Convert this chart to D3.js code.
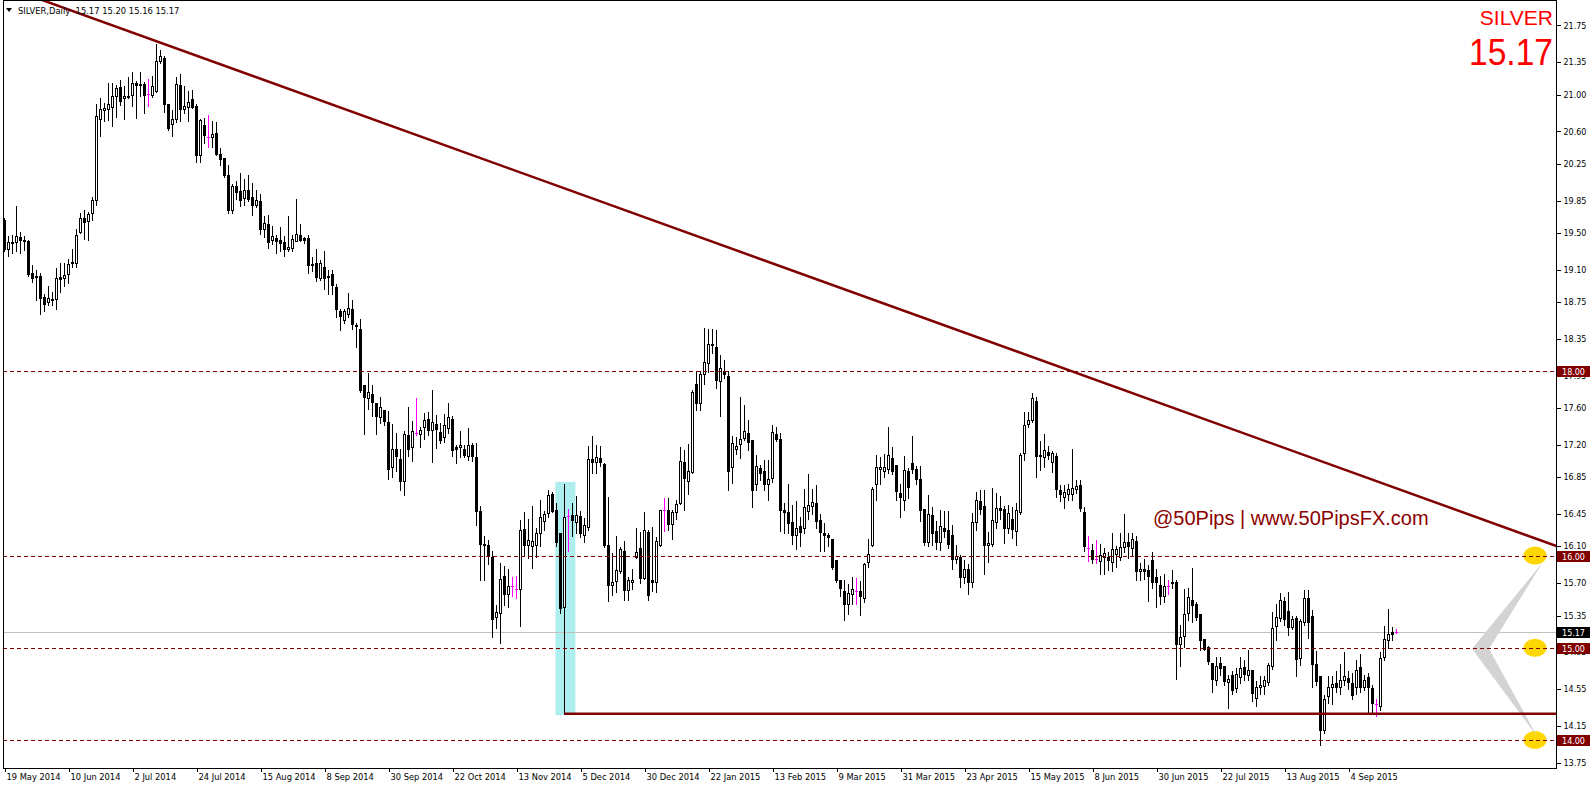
<!DOCTYPE html>
<html><head><meta charset="utf-8">
<script src="https://cdn.jsdelivr.net/npm/d3@7/dist/d3.min.js"></script>
<style>
html,body{margin:0;padding:0;background:#fff;overflow:hidden;}
svg{display:block;}
</style></head><body>
<svg id="chart" width="1596" height="786"></svg>
<script>
// ---------------- DATA ----------------
const dateTicks = ["19 May 2014","10 Jun 2014","2 Jul 2014","24 Jul 2014","15 Aug 2014","8 Sep 2014","30 Sep 2014","22 Oct 2014","13 Nov 2014","5 Dec 2014","30 Dec 2014","22 Jan 2015","13 Feb 2015","9 Mar 2015","31 Mar 2015","23 Apr 2015","15 May 2015","8 Jun 2015","30 Jun 2015","22 Jul 2015","13 Aug 2015","4 Sep 2015"];
const barsPerTick = 16;
const priceTicks = [21.75,21.35,21.00,20.60,20.25,19.85,19.50,19.10,18.75,18.35,17.95,17.60,17.20,16.85,16.45,16.10,15.70,15.35,14.95,14.55,14.15,13.75];
const levels = [18.00,16.00,15.00,14.00];
const bidPrice = 15.17;
const supportLine = {fromBar:140, price:14.285};
const trendLine = [{bar:30.35, price:21.70},{bar:388.1, price:16.104}];
const highlightBox = {fromBar:137.85, toBar:142.85, low:14.27, high:16.80};
const markedLevels = [16.00,15.00,14.00];
const header = {symbol:"SILVER,Daily", ohlc:"15.17 15.20 15.16 15.17"};

const open = [
19.64,19.33,19.39,19.40,19.46,19.42,19.41,19.06,19.02,19.03,
18.80,18.75,18.78,18.78,19.02,19.01,19.05,19.17,19.17,19.51,
19.66,19.63,19.72,19.86,20.73,20.83,20.84,20.87,20.98,21.08,
20.96,20.98,21.00,21.13,21.10,21.11,21.01,21.00,21.04,21.36,
21.40,20.90,20.68,20.73,21.10,20.84,20.87,20.95,20.88,20.35,
20.67,20.54,20.54,20.58,20.36,20.31,20.13,19.75,20.01,19.95,
19.88,19.97,19.89,19.80,19.85,19.54,19.60,19.42,19.45,19.42,
19.40,19.32,19.34,19.41,19.48,19.44,19.45,19.16,19.17,19.01,
19.13,19.03,19.05,18.91,18.65,18.55,18.62,18.68,18.50,18.46,
17.85,17.71,17.75,17.66,17.50,17.58,17.45,16.96,17.16,17.05,
16.81,17.31,17.18,17.33,17.32,17.39,17.48,17.36,17.43,17.34,
17.29,17.38,17.48,17.18,17.18,17.16,17.08,17.20,17.07,16.48,
16.13,16.11,15.99,15.33,15.38,15.78,15.58,15.67,15.64,15.64,
16.29,16.12,16.10,16.12,16.25,16.37,16.46,16.67,16.50,16.24,
15.44,16.43,16.44,16.36,16.43,16.22,16.31,17.05,17.02,17.06,
16.99,16.12,15.68,15.72,15.83,16.05,15.63,15.71,15.98,16.08,
15.76,16.26,15.73,15.71,16.12,16.50,16.50,16.34,16.47,16.57,
17.01,16.81,16.91,17.86,17.66,17.97,18.09,18.28,18.26,17.89,
18.00,17.95,16.96,17.16,17.21,17.28,17.33,17.25,16.78,16.95,
16.92,16.78,16.84,17.32,17.27,16.50,16.47,16.36,16.22,16.32,
16.30,16.48,16.54,16.57,16.39,16.25,16.22,16.18,15.95,15.73,
15.62,15.47,15.58,15.62,15.62,15.54,15.93,16.12,16.78,16.94,
16.92,16.94,17.06,16.98,16.68,16.60,16.92,17.00,16.94,16.83,
16.51,16.15,16.44,16.27,16.15,16.30,16.28,16.22,15.96,15.99,
15.77,15.85,15.71,16.36,16.59,16.54,16.11,16.13,16.36,16.52,
16.51,16.30,16.40,16.27,16.47,17.11,17.43,17.47,17.68,17.09,
17.07,17.12,17.02,17.08,16.71,16.64,16.67,16.67,16.72,16.77,
16.47,16.08,16.06,15.96,15.94,15.99,15.99,15.93,16.02,15.99,
16.09,16.15,16.08,16.16,15.83,15.86,15.84,15.95,15.77,15.68,
15.56,15.67,15.71,15.71,15.04,15.13,15.38,15.52,15.48,15.37,
15.10,15.01,14.84,14.65,14.84,14.80,14.63,14.71,14.56,14.68,
14.79,14.71,14.76,14.46,14.58,14.59,14.63,14.80,15.24,15.32,
15.51,15.40,15.23,15.32,14.89,15.28,15.54,15.35,14.82,14.69,
14.11,14.48,14.58,14.62,14.57,14.65,14.67,14.62,14.58,14.79,
14.58,14.68,14.56,14.39,14.37,14.90,15.09,15.17,15.17];

const high = [
19.66,19.47,19.48,19.79,19.51,19.47,19.42,19.15,19.10,19.07,
18.84,18.92,18.86,19.12,19.17,19.17,19.22,19.32,19.54,19.72,
19.75,19.73,19.89,20.90,20.96,20.91,21.13,21.13,21.10,21.16,
21.09,21.19,21.25,21.15,21.24,21.14,21.17,21.20,21.55,21.48,
21.42,20.90,20.83,21.19,21.22,21.09,21.04,21.05,20.90,20.73,
20.75,20.78,20.71,20.70,20.42,20.31,20.24,20.03,20.06,20.15,
20.08,20.13,20.04,19.97,19.92,19.68,19.69,19.58,19.48,19.56,
19.47,19.68,19.48,19.87,19.60,19.46,19.48,19.24,19.33,19.21,
19.30,19.10,19.10,18.95,18.67,18.68,18.85,18.77,18.52,18.57,
17.85,17.98,17.85,17.66,17.72,17.58,17.57,17.43,17.33,17.16,
17.35,17.61,17.46,17.71,17.40,17.55,17.56,17.80,17.53,17.44,
17.54,17.65,17.51,17.20,17.35,17.20,17.38,17.22,17.22,16.54,
16.21,16.17,16.05,15.46,15.92,15.89,15.86,15.77,15.78,16.39,
16.47,16.40,16.54,16.30,16.60,16.48,16.71,16.69,16.57,16.24,
16.78,16.51,16.57,16.65,16.48,16.41,17.19,17.30,17.20,17.19,
17.00,16.64,16.03,16.21,16.09,16.16,15.77,15.85,16.30,16.26,
16.47,16.28,16.31,16.20,16.50,16.63,16.62,16.50,16.60,17.18,
17.15,17.21,17.80,18.00,18.00,18.47,18.46,18.46,18.45,18.18,
18.12,18.00,17.30,17.29,17.72,17.63,17.47,17.25,17.09,16.98,
17.04,17.04,17.42,17.40,17.33,16.57,16.78,16.55,16.59,16.42,
16.72,16.89,16.72,16.77,16.45,16.35,16.24,16.18,15.95,15.73,
15.74,15.69,15.77,15.76,15.72,15.92,16.18,16.74,17.09,17.07,
17.10,17.39,17.18,16.98,16.78,17.08,16.95,17.30,16.97,16.97,
16.51,16.66,16.53,16.37,16.50,16.48,16.48,16.33,16.12,16.01,
15.95,15.91,16.46,16.69,16.71,16.71,16.26,16.73,16.68,16.65,
16.54,16.55,16.53,16.57,17.11,17.56,17.56,17.76,17.72,17.24,
17.32,17.19,17.13,17.11,16.77,16.77,16.78,17.16,16.82,16.82,
16.53,16.21,16.13,16.17,16.13,16.08,16.04,16.25,16.10,16.24,
16.45,16.24,16.25,16.21,15.92,15.96,15.90,16.04,15.85,15.78,
15.80,15.73,15.84,15.73,15.25,15.64,15.65,15.87,15.50,15.37,
15.10,15.02,14.84,14.90,14.90,14.80,14.71,14.75,14.78,14.90,
14.87,14.98,14.76,14.64,14.69,14.69,14.84,15.39,15.48,15.59,
15.55,15.60,15.34,15.34,15.31,15.63,15.63,15.41,14.96,14.69,
14.49,14.69,14.69,14.75,14.82,14.95,14.75,14.73,14.87,14.93,
14.71,14.73,14.60,14.44,14.95,15.24,15.42,15.23,15.20];

const low = [
19.30,19.25,19.28,19.30,19.28,19.31,19.03,18.97,18.77,18.62,
18.65,18.72,18.72,18.68,18.86,18.92,18.96,19.13,19.13,19.50,
19.43,19.42,19.64,19.80,20.55,20.71,20.72,20.66,20.76,20.89,
20.73,20.96,20.88,20.75,20.98,20.80,20.88,20.97,21.03,21.34,
20.81,20.62,20.55,20.70,20.71,20.80,20.71,20.85,20.27,20.27,
20.47,20.43,20.43,20.34,20.24,20.11,19.72,19.72,19.87,19.79,
19.80,19.85,19.69,19.78,19.49,19.46,19.34,19.38,19.28,19.30,
19.25,19.30,19.30,19.41,19.41,19.39,19.07,19.09,18.98,18.99,
18.89,18.84,18.84,18.59,18.45,18.52,18.59,18.46,18.26,17.77,
17.32,17.59,17.51,17.32,17.44,17.42,16.83,16.85,16.92,16.71,
16.66,17.08,17.03,17.31,17.18,17.26,17.31,17.01,17.17,17.22,
17.23,17.33,17.08,17.00,17.07,17.07,17.04,17.03,16.33,15.74,
15.74,15.91,15.12,15.21,15.05,15.46,15.44,15.56,15.54,15.24,
16.01,15.97,15.87,15.98,16.10,16.28,16.42,16.47,16.10,15.38,
14.28,16.05,16.21,16.25,16.20,16.15,16.28,16.90,16.90,16.97,
16.09,15.51,15.57,15.60,15.81,15.52,15.52,15.64,15.97,15.70,
15.75,15.52,15.62,15.61,16.10,16.27,16.28,16.18,16.40,16.56,
16.50,16.67,16.90,17.58,17.58,17.86,17.99,18.20,17.82,17.51,
17.93,16.71,16.79,17.10,17.06,17.25,17.15,16.53,16.71,16.82,
16.71,16.60,16.80,17.24,16.27,16.24,16.24,16.13,16.07,16.10,
16.25,16.40,16.45,16.30,16.05,16.05,16.10,15.86,15.71,15.56,
15.30,15.37,15.47,15.48,15.36,15.50,15.88,16.10,16.60,16.78,
16.85,16.90,16.89,16.60,16.42,16.50,16.62,16.90,16.78,16.37,
16.12,16.10,16.12,16.07,16.06,16.20,16.08,15.86,15.92,15.66,
15.70,15.58,15.66,16.28,16.45,15.80,15.93,16.10,16.30,16.40,
16.14,16.24,16.19,16.12,16.45,17.04,17.40,17.45,16.85,16.93,
16.96,17.05,16.91,16.64,16.59,16.52,16.60,16.60,16.68,16.48,
16.05,15.94,15.92,15.92,15.80,15.80,15.84,15.83,15.88,15.95,
16.04,15.97,16.00,15.73,15.73,15.75,15.51,15.65,15.44,15.48,
15.50,15.58,15.65,14.66,14.80,15.01,15.30,15.28,15.30,14.98,
14.98,14.82,14.52,14.60,14.70,14.60,14.35,14.50,14.52,14.62,
14.65,14.65,14.42,14.37,14.50,14.50,14.60,14.77,15.08,15.29,
15.25,15.14,15.20,14.69,14.81,15.25,15.11,14.58,14.60,13.95,
14.08,14.40,14.39,14.52,14.50,14.60,14.55,14.45,14.50,14.52,
14.54,14.29,14.28,14.26,14.32,14.87,15.00,15.08,15.16];

const close = [
19.33,19.40,19.40,19.47,19.42,19.41,19.05,19.01,19.03,18.79,
18.73,18.79,18.77,19.01,19.00,19.04,19.16,19.18,19.48,19.66,
19.62,19.71,19.86,20.77,20.84,20.85,20.90,20.99,21.07,20.93,
20.99,20.99,21.13,21.10,21.12,21.00,21.01,21.09,21.36,21.42,
20.90,20.64,20.74,21.11,20.84,20.88,20.92,20.87,20.35,20.72,
20.56,20.54,20.57,20.36,20.30,20.13,19.75,20.01,19.94,19.86,
19.97,19.87,19.80,19.86,19.54,19.61,19.40,19.47,19.41,19.39,
19.33,19.35,19.43,19.49,19.42,19.42,19.15,19.15,19.02,19.17,
19.01,19.02,18.93,18.68,18.60,18.65,18.69,18.51,18.49,17.80,
17.72,17.77,17.67,17.51,17.61,17.46,16.94,17.16,17.08,16.81,
17.32,17.16,17.35,17.33,17.36,17.47,17.36,17.45,17.37,17.25,
17.42,17.50,17.14,17.16,17.20,17.09,17.20,17.08,16.48,16.13,
16.12,16.00,15.31,15.39,15.75,15.58,15.67,15.67,15.64,16.28,
16.12,16.17,16.16,16.24,16.42,16.45,16.66,16.48,16.15,15.43,
16.42,16.43,16.39,16.44,16.25,16.33,17.05,17.02,17.07,17.01,
16.12,15.68,15.71,15.84,16.07,15.63,15.73,15.74,16.04,15.76,
16.28,15.57,15.71,16.16,16.50,16.50,16.34,16.47,16.56,17.03,
16.84,16.92,17.77,17.66,17.97,18.10,18.30,18.29,17.90,18.03,
17.97,16.92,17.22,17.19,17.27,17.35,17.23,16.71,16.97,16.90,
16.78,16.83,17.34,17.26,16.49,16.47,16.35,16.22,16.30,16.26,
16.53,16.55,16.58,16.38,16.26,16.22,16.20,15.88,15.73,15.65,
15.47,15.59,15.64,15.62,15.56,15.91,16.02,16.72,16.96,16.96,
16.96,17.09,16.92,16.70,16.64,16.93,16.74,16.94,16.83,16.50,
16.15,16.45,16.25,16.15,16.32,16.27,16.13,15.96,16.00,15.77,
15.86,15.71,16.36,16.60,16.51,16.12,16.14,16.39,16.52,16.50,
16.30,16.46,16.29,16.50,17.09,17.42,17.47,17.71,17.08,17.08,
17.14,17.09,17.11,16.72,16.67,16.69,16.72,16.73,16.76,16.52,
16.10,16.08,15.96,15.96,16.01,16.03,15.95,16.07,16.07,16.09,
16.15,16.10,16.18,15.83,15.86,15.83,15.78,15.71,15.71,15.56,
15.67,15.67,15.70,15.04,15.12,15.37,15.55,15.46,15.33,15.08,
14.99,14.86,14.66,14.80,14.78,14.64,14.66,14.54,14.72,14.78,
14.72,14.76,14.51,14.58,14.60,14.65,14.81,15.22,15.33,15.52,
15.31,15.23,15.31,14.88,15.29,15.54,15.28,14.82,14.64,14.11,
14.45,14.58,14.61,14.58,14.65,14.69,14.63,14.49,14.76,14.58,
14.65,14.58,14.40,14.39,14.89,15.10,15.15,15.15,15.17];

// ---------------- LAYOUT ----------------
const W = 1596, H = 786;
const plot = {left:3, right:1556, top:1, bottom:768};
const nBars = open.length;
const svg = d3.select("#chart");
const x = d3.scaleLinear().domain([0, 348]).range([4, 1396]);
const y = d3.scaleLinear().domain([14, 18]).range([740, 371.2]);
const DARK = "#800000";
const FONT = "'DejaVu Sans', Verdana, sans-serif";

svg.append("rect").attr("width", W).attr("height", H).attr("fill", "#fff");
svg.append("defs").append("clipPath").attr("id", "plotclip")
  .append("rect").attr("x", plot.left).attr("y", plot.top)
  .attr("width", plot.right - plot.left).attr("height", plot.bottom - plot.top);

const g = svg.append("g").attr("clip-path", "url(#plotclip)");

// highlight box (background)
g.append("rect")
  .attr("x", x(highlightBox.fromBar)).attr("width", x(highlightBox.toBar) - x(highlightBox.fromBar))
  .attr("y", y(highlightBox.high)).attr("height", y(highlightBox.low) - y(highlightBox.high))
  .attr("fill", "#afeeee");

// bid line
g.append("line").attr("x1", plot.left).attr("x2", plot.right)
  .attr("y1", Math.round(y(bidPrice)) + 0.5).attr("y2", Math.round(y(bidPrice)) + 0.5)
  .attr("stroke", "#c0c0c0").attr("stroke-width", 1);

// candles
const bars = d3.range(nBars).map(i => ({i, o: open[i], h: high[i], l: low[i], c: close[i]}));
const cg = g.append("g").attr("shape-rendering", "crispEdges");
bars.forEach(d => {
  const cx = Math.round(x(d.i));
  const doji = Math.abs(d.o - d.c) < 0.005;
  const col = doji ? "#ff00ff" : "#000";
  const yh = Math.round(y(d.h)), yl = Math.round(y(d.l));
  cg.append("line").attr("x1", cx + 0.5).attr("x2", cx + 0.5)
    .attr("y1", yh).attr("y2", yl + 1).attr("stroke", col).attr("stroke-width", 1);
  if (doji) {
    const yo = Math.round(y(d.o));
    cg.append("rect").attr("x", cx - 1).attr("y", yo).attr("width", 3).attr("height", 1).attr("fill", col);
    return;
  }
  const yt = Math.round(y(Math.max(d.o, d.c))), yb = Math.round(y(Math.min(d.o, d.c)));
  if (d.c > d.o) {
    cg.append("rect").attr("x", cx - 0.5).attr("y", yt + 0.5)
      .attr("width", 2).attr("height", Math.max(yb - yt, 1))
      .attr("fill", "#fff").attr("stroke", "#000").attr("stroke-width", 1);
  } else {
    cg.append("rect").attr("x", cx - 1).attr("y", yt)
      .attr("width", 3).attr("height", Math.max(yb - yt + 1, 2)).attr("fill", "#000");
  }
});

// yellow markers + gray zigzag
const mx = 1535;
markedLevels.forEach(p => {
  g.append("ellipse").attr("cx", mx).attr("cy", y(p)).attr("rx", 11.5).attr("ry", 9).attr("fill", "#ffd700");
});
g.append("polygon")
  .attr("points", [[1543, y(15.93)], [1472, y(14.99)], [1537, y(14.04)], [1489, y(14.99)]].map(p => p.join(",")).join(" "))
  .attr("fill", "#d3d3d3");

// dashed levels
levels.forEach(p => {
  const yy = Math.round(y(p)) + 0.5;
  g.append("line").attr("x1", plot.left).attr("x2", plot.right).attr("y1", yy).attr("y2", yy)
    .attr("stroke", DARK).attr("stroke-width", 1).attr("stroke-dasharray", "4,3");
});

// support line
g.append("line").attr("x1", x(supportLine.fromBar)).attr("x2", plot.right)
  .attr("y1", y(supportLine.price)).attr("y2", y(supportLine.price))
  .attr("stroke", DARK).attr("stroke-width", 2.5);

// trend line (extended)
const t0 = trendLine[0], t1 = trendLine[1];
const slope = (t1.price - t0.price) / (t1.bar - t0.bar);
const bA = 0, bB = 400;
g.append("line")
  .attr("x1", x(bA)).attr("y1", y(t0.price + slope * (bA - t0.bar)))
  .attr("x2", x(bB)).attr("y2", y(t0.price + slope * (bB - t0.bar)))
  .attr("stroke", DARK).attr("stroke-width", 2.5);

// watermark
g.append("text").attr("x", 1153).attr("y", 525)
  .attr("font-family", "'Liberation Sans', Arial, sans-serif").attr("font-size", 20)
  .attr("fill", "#8b0000").text("@50Pips | www.50PipsFX.com");

// symbol + price labels (top right)
svg.append("text").attr("x", 1553).attr("y", 25).attr("text-anchor", "end")
  .attr("font-family", "'Liberation Sans', Arial, sans-serif").attr("font-size", 21)
  .attr("fill", "#ff0000").text("SILVER");
svg.append("text").attr("x", 1553).attr("y", 65).attr("text-anchor", "end")
  .attr("font-family", "'Liberation Sans', Arial, sans-serif").attr("font-size", 37)
  .attr("textLength", 84).attr("lengthAdjust", "spacingAndGlyphs")
  .attr("fill", "#ff0000").text(d3.format(".2f")(bidPrice));

// frame
svg.append("rect").attr("x", plot.left + 0.5).attr("y", plot.top - 0.5)
  .attr("width", plot.right - plot.left).attr("height", plot.bottom - plot.top + 0.5)
  .attr("fill", "none").attr("stroke", "#000").attr("stroke-width", 1).attr("shape-rendering", "crispEdges");

// header
svg.append("path").attr("d", "M6,8 L12,8 L9,12 Z").attr("fill", "#000");
svg.append("text").attr("x", 18).attr("y", 13.5).attr("font-family", FONT).attr("font-size", 8.4)
  .attr("fill", "#000").text(header.symbol + "  " + header.ohlc).attr("xml:space", "preserve");

// right price axis
const yAxis = d3.axisRight(y).tickValues(priceTicks).tickSize(4).tickPadding(3)
  .tickFormat(d3.format(".2f"));
const ya = svg.append("g").attr("transform", `translate(${plot.right + 0.5},0)`).call(yAxis);
ya.select(".domain").remove();
ya.selectAll("line").attr("stroke", "#000").attr("shape-rendering", "crispEdges");
ya.selectAll("text").attr("font-family", FONT).attr("font-size", 8).attr("fill", "#000");

// level tags on axis
function tag(p, bg) {
  const yy = y(p);
  svg.append("rect").attr("x", plot.right + 1).attr("y", Math.round(yy) - 5).attr("width", 33).attr("height", 11)
    .attr("fill", bg).attr("shape-rendering", "crispEdges");
  svg.append("text").attr("x", plot.right + 17.5).attr("y", Math.round(yy) + 3.5).attr("text-anchor", "middle")
    .attr("font-family", FONT).attr("font-size", 8).attr("fill", "#fff").text(d3.format(".2f")(p));
}
levels.forEach(p => tag(p, DARK));
tag(bidPrice, "#000");

// bottom date axis
const tickBars = dateTicks.map((d, k) => k * barsPerTick);
const xa = svg.append("g").attr("transform", `translate(0,${plot.bottom})`)
  .call(d3.axisBottom(x).tickValues(tickBars).tickSize(4).tickFormat((d, k) => dateTicks[k]));
xa.select(".domain").remove();
xa.selectAll("line").attr("stroke", "#000").attr("shape-rendering", "crispEdges")
  .attr("transform", d => `translate(${Math.round(x(d)) + 0.5 - x(d)},0)`);
xa.selectAll("text").attr("font-family", FONT).attr("font-size", 8.3).attr("fill", "#000")
  .attr("text-anchor", "start").attr("dx", 2).attr("y", 5).attr("dy", "0.9em");
</script>
</body></html>
